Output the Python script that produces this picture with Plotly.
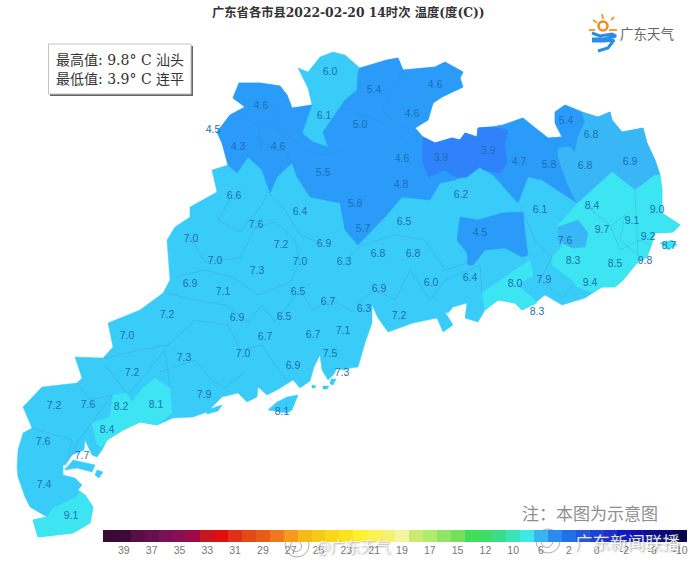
import plotly.graph_objects as go

CJK = "Noto Sans CJK SC"
SERIF = "DejaVu Serif, Noto Sans CJK SC"
WM_SHADOW = "1px 1px 2px rgba(90,90,90,0.7)"

# colours of the map classes
c_base = "#3accf8"
c_mid = "#39b6f5"
c_dark = "#2b9bfa"
c_darkest = "#2f82fa"
c_cyan = "#3de4f2"

# province outline, map units
prov_x = [239,260,280,287,292,312,308,298,308,320,333,345,360,387,398,403,435,445,463,460,463,442,433,428,415,423,435,452,460,465,477,478,492,503,523,535,548,562,555,555,565,582,598,610,612,622,643,647,655,660,662,662,680,673,655,652,647,637,625,623,615,602,585,562,545,535,522,515,498,485,478,465,467,453,448,445,453,443,437,413,388,378,372,372,365,358,350,343,337,334,328,322,320,314,310,300,293,277,267,258,257,247,238,222,207,193,173,157,140,123,107,102,97,92,85,84,72,65,63,63,75,82,78,85,93,90,73,57,38,33,47,30,25,18,17,18,23,32,23,42,77,82,75,103,113,108,140,163,170,167,175,190,190,208,217,212,228,222,217,230,245,233]
prov_y = [83,83,86,95,108,105,88,68,72,57,52,55,68,60,58,70,67,62,72,78,87,97,103,120,128,137,143,138,140,133,137,128,127,125,118,128,138,137,123,112,105,112,117,112,120,132,128,143,160,175,190,213,225,232,233,243,257,263,277,280,287,287,298,305,295,303,310,303,300,310,322,318,303,307,313,312,325,332,318,323,332,318,305,323,343,367,368,370,368,374,380,370,355,367,381,388,380,390,395,387,397,402,393,397,412,417,418,425,422,430,440,450,457,455,440,450,455,465,465,475,478,485,490,495,507,523,533,535,537,520,517,507,497,477,467,450,433,428,407,387,383,378,357,358,347,323,310,293,280,240,227,217,207,197,192,170,165,143,132,115,107,98]

# islands
isl_a_x = [268,277,287,298,292,287]
isl_a_y = [410,402,397,395,410,413]
isl_b_x = [660,672,677,668]
isl_b_y = [243,240,245,250]
isl_c_x = [65,73,95,92,77]
isl_c_y = [470,460,465,472,468]
isl_d_x = [97,103,99,95]
isl_d_y = [470,472,478,475]
isl_e_x = [206,222,218,207]
isl_e_y = [410,405,411,414]
isl_f_x = [331,336,333,330]
isl_f_y = [379,379,385,384]
isl_g_x = [312,316,315,312]
isl_g_y = [385,386,388,388]
isl_h_x = [323,329,327,323]
isl_h_y = [386,386,389,389]

# colder northern zone
north_x = [239,260,280,287,292,312,302,313,328,323,345,357,358,360,387,398,403,435,445,463,460,463,442,433,428,415,423,435,452,460,465,477,478,492,503,523,535,548,562,555,555,565,582,585,578,575,570,558,558,568,577,542,528,518,493,480,455,440,430,402,385,358,345,340,310,297,292,277,270,262,248,237,228,222,217,230,245,233]
north_y = [83,83,86,95,108,105,133,142,147,132,100,90,72,68,60,58,70,67,62,72,78,87,97,103,120,128,137,143,138,140,133,137,128,127,125,118,128,138,137,123,112,105,112,122,137,153,147,148,157,185,203,180,177,203,175,167,180,183,200,197,217,245,230,203,197,177,163,177,193,170,157,173,165,143,132,115,107,98]

coldest_x = [423,435,452,460,465,477,478,492,508,505,507,500,483,480,467,458,448,445,428,422]
coldest_y = [137,143,138,140,133,137,128,127,130,143,163,173,170,167,177,178,173,170,177,160]

pocket_x = [460,478,502,523,525,528,522,505,485,473,468,467,457]
pocket_y = [217,220,213,212,233,255,257,248,250,265,265,253,240]

ne_x = [582,598,610,612,622,643,647,655,660,638,635,612,578,577,568,558,558,570,575,578,585]
ne_y = [112,117,112,120,132,128,143,160,175,187,190,172,203,203,185,157,148,147,153,137,122]

east_x = [612,635,655,660,662,662,680,673,655,652,647,637,625,623,615,602,592,577,572,552,552,563,558,558,578]
east_y = [172,190,175,175,190,213,225,232,233,243,257,263,277,280,287,287,292,287,280,265,257,245,235,225,203]

pocket2_x = [558,578,588,585,572,558]
pocket2_y = [227,220,233,247,248,240]

shan_x = [482,500,512,530,533,517,532,537,522,515,498,485]
shan_y = [293,280,272,260,275,285,297,303,310,303,300,310]

west_x = [113,127,132,137,143,155,170,172,157,140,123,107,102,97,92,110]
west_y = [395,393,402,395,388,378,388,413,425,422,430,440,447,445,423,417]

south_x = [53,75,80,85,93,90,73,57,38,33,47]
south_y = [508,498,492,495,507,523,533,535,537,520,517]

# county lines inside the province
county_lines = [
    ([245,258,262,257,272,285,292], [115,127,150,135,150,150,163]),
    ([281,270,292,305,320,345], [106,125,138,150,155,150]),
    ([345,372,398,410], [108,118,132,150]),
    ([403,392,382,395,415], [70,90,110,125,130]),
    ([230,218,240,262,268,285,300,320], [200,220,232,205,192,210,235,243]),
    ([190,205,240,255,275,295,300], [238,262,258,228,222,240,262]),
    ([175,205,235,258,290,300], [277,270,278,295,282,262]),
    ([165,195,225,248,262,275,300,312,330,355], [293,300,305,322,305,322,290,310,300,312]),
    ([105,140,168,195,228,240,262,275,290], [358,350,345,320,325,350,345,365,385]),
    ([160,195,212,225,245], [372,360,380,388,372]),
    ([105,128,165,170], [365,395,350,388]),
    ([77,90,112,92,77,65,72,32], [383,400,395,423,443,470,440,428]),
    ([345,362,395,425,445,470,480], [262,245,235,240,270,262,258]),
    ([355,375,395,410,430,445,480,482], [305,290,300,270,300,280,265,293]),
    ([520,535,552,540,562,575], [205,240,257,280,298,282]),
    ([585,610,620,640,650], [205,225,250,240,245]),
    ([612,625,620,638,635], [225,215,240,255,190]),
]

# station readings
station_temp = ["6.0","5.4","4.6","4.6","6.1","4.6","5.0","4.5","4.3","4.6","4.6","5.5","3.9","3.9","4.7","5.8","5.4","6.8","6.8","6.9","4.8","6.2","6.6","7.6","6.4","5.8","5.7","6.5","6.1","8.4","9.0","9.1","9.7","9.2","8.7","4.5","7.6","7.0","7.2","6.9","7.0","7.0","7.3","6.3","6.8","6.8","8.3","8.5","9.8","6.4","6.0","6.9","7.1","6.5","6.9","8.0","7.9","9.4","6.7","7.2","6.9","6.5","6.3","7.2","8.3","7.0","6.7","6.7","7.1","7.3","7.0","7.5","6.9","7.3","7.2","7.9","8.1","8.2","7.2","7.6","8.1","8.4","7.6","7.7","7.4","9.1"]
station_x = [330,374,435,261,324,412,360,213,238,278,402,323,441,488,519,549,566,591,585,630,401,461,234,256,300,355,363,404,540,592,657,632,602,648,669,480,565,191,281,324,215,300,257,344,378,413,573,615,645,470,431,190,223,298,379,515,544,590,328,167,237,284,364,399,537,127,265,313,343,184,243,330,293,342,132,204,156,121,54,88,282,107,43,82,44,71]
station_y = [72,90,85,106,116,114,125,130,147,147,159,173,158,151,162,165,121,135,166,162,185,195,196,225,212,204,229,222,210,206,210,221,230,237,246,233,241,239,245,244,261,262,271,262,254,254,261,264,261,278,283,284,292,292,289,284,280,283,302,315,318,317,309,316,312,336,337,335,331,358,354,354,366,373,373,395,405,407,406,405,412,430,442,456,485,516]

# colour legend
legend_colors = ["#3a0a35","#3f0a38","#580e48","#670f50","#7a1058","#8a0e52","#a00a44","#c4161c","#e00e0e","#e0301a","#e64a14","#e85c14","#f07820","#f59a1a","#f5b91a","#f5cc14","#f8d818","#fbe41c","#fff030","#fdf350","#f8f070","#f3f6a0","#cdea70","#b0ec6c","#90e664","#74e05e","#40de58","#3ddc62","#3adc88","#38e4b4","#3ce8e8","#38b4f0","#2a8cf0","#2070e8","#2058e0","#1c44d8","#1c30cc","#1018c0","#1010b0","#0c0c90","#0a0a78","#060650"]
legend_bins = list(range(len(legend_colors)))
legend_heights = [1] * len(legend_colors)
legend_labels = ["39","37","35","33","31","29","27","25","23","21","19","17","15","12","10","6","2","0","-2","-6","-10"]
legend_ticks = [1 + 2 * i for i in range(len(legend_labels))]

fig = go.Figure()


def add_area(xs, ys, color):
    fig.add_trace(go.Scatter(x=xs + xs[:1], y=ys + ys[:1], mode="lines", fill="toself",
                             fillcolor=color, line=dict(color=color, width=0.5),
                             hoverinfo="skip", showlegend=False))


add_area(prov_x, prov_y, c_base)
add_area(north_x, north_y, c_dark)
add_area(coldest_x, coldest_y, c_darkest)
add_area(pocket_x, pocket_y, c_dark)
add_area(ne_x, ne_y, c_mid)
add_area(east_x, east_y, c_cyan)
add_area(pocket2_x, pocket2_y, c_mid)
add_area(shan_x, shan_y, c_cyan)
add_area(west_x, west_y, c_cyan)
add_area(south_x, south_y, c_cyan)
add_area(isl_a_x, isl_a_y, c_base)
add_area(isl_b_x, isl_b_y, c_cyan)
add_area(isl_c_x, isl_c_y, c_base)
add_area(isl_d_x, isl_d_y, c_base)
add_area(isl_e_x, isl_e_y, c_base)
add_area(isl_f_x, isl_f_y, c_base)
add_area(isl_g_x, isl_g_y, c_base)
add_area(isl_h_x, isl_h_y, c_base)

for xs, ys in county_lines:
    fig.add_trace(go.Scatter(x=xs, y=ys, mode="lines",
                             line=dict(color="rgba(60,130,190,0.3)", width=0.8),
                             hoverinfo="skip", showlegend=False))

fig.add_trace(go.Scatter(x=station_x, y=station_y, text=station_temp, mode="text",
                         textfont=dict(family="Liberation Sans", size=10.5, color="#1b6fb4"),
                         hoverinfo="skip", showlegend=False))

fig.add_trace(go.Bar(x=legend_bins, y=legend_heights, marker=dict(color=legend_colors, line_width=0),
                     xaxis="x2", yaxis="y2", hoverinfo="skip", showlegend=False))

# logo
fig.add_trace(go.Scatter(x=[603], y=[26], mode="markers",
                         marker=dict(size=9, color="white", line=dict(color="#f08a24", width=2.5)),
                         hoverinfo="skip", showlegend=False))
fig.add_trace(go.Scatter(x=[589,595,None,593,597,None,602,603,None,611,614,None,609,617],
                         y=[30,30,None,20,23,None,14,19,None,20,17,None,30,30], mode="lines",
                         line=dict(color="#f0a030", width=2), hoverinfo="skip", showlegend=False))
fig.add_trace(go.Scatter(x=[592,600,612,616,604,592,None,592,604,614,608,598],
                         y=[33,36,34,36,39,39,None,41,41,40,48,51], mode="lines",
                         line=dict(color="#2a8ce8", width=3), hoverinfo="skip", showlegend=False))

# weibo marks
fig.add_trace(go.Scatter(x=[297,548], y=[545,541], mode="markers",
                         marker=dict(size=[24,24], color="rgba(255,255,255,0.6)",
                                     line=dict(color="rgba(110,110,110,0.8)", width=1)),
                         hoverinfo="skip", showlegend=False))
fig.add_trace(go.Scatter(x=[296,547], y=[546,542], mode="markers",
                         marker=dict(size=[11,11], color="rgba(255,255,255,0)",
                                     line=dict(color="rgba(110,110,110,0.8)", width=1)),
                         hoverinfo="skip", showlegend=False))
fig.add_trace(go.Scatter(x=[303,309,311,None,554,560,562], y=[533,535,542,None,529,531,538], mode="lines",
                         line=dict(color="rgba(255,255,255,0.9)", width=1.5),
                         hoverinfo="skip", showlegend=False))

fig.update_layout(
    width=690, height=561, margin=dict(l=0, r=0, t=0, b=0),
    paper_bgcolor="white", plot_bgcolor="rgba(0,0,0,0)", bargap=0,
    xaxis=dict(range=[0, 690], domain=[0, 1], visible=False, fixedrange=True),
    yaxis=dict(range=[561, 0], domain=[0, 1], visible=False, fixedrange=True),
    xaxis2=dict(domain=[103 / 690, 687 / 690], range=[-0.5, 41.5], anchor="y2", showgrid=False,
                zeroline=False, showline=False, ticks="", tickmode="array", tickvals=legend_ticks,
                ticktext=legend_labels, tickfont=dict(family="Liberation Sans", size=10.5, color="#777777")),
    yaxis2=dict(domain=[1 - 542 / 561, 1 - 530 / 561], range=[0, 1], anchor="x2", visible=False),
    shapes=[
        dict(type="rect", x0=50, y0=46, x1=193, y1=96, xref="x", yref="y", layer="below",
             fillcolor="#666666", line_width=0),
        dict(type="rect", x0=48.5, y0=44, x1=191, y1=94, xref="x", yref="y", layer="below",
             fillcolor="white", line=dict(color="#c4c4c4", width=1)),
    ],
    annotations=[
        dict(text="<b>广东省各市县2022-02-20 14时次 温度(度(C))</b>", x=348, y=12, xref="x", yref="y",
             showarrow=False, font=dict(family=SERIF, size=12.3, color="#333333")),
        dict(text="最高值: 9.8° C 汕头", x=120, y=59.5, xref="x", yref="y", showarrow=False,
             font=dict(family=SERIF, size=14, color="#333333")),
        dict(text="最低值: 3.9° C 连平", x=120, y=78.5, xref="x", yref="y", showarrow=False,
             font=dict(family=SERIF, size=14, color="#333333")),
        dict(text="广东天气", x=647, y=33, xref="x", yref="y", showarrow=False,
             font=dict(family=CJK, size=13.5, color="#666666")),
        dict(text="注：本图为示意图", x=589.5, y=512, xref="x", yref="y", showarrow=False,
             font=dict(family=CJK, size=17, color="#8e8e8e")),
        dict(text="@广东天气", x=353, y=545, xref="x", yref="y", showarrow=False,
             font=dict(family=CJK, size=15, color="rgba(255,255,255,0.8)", shadow=WM_SHADOW)),
        dict(text="广东新闻联播", x=628, y=541, xref="x", yref="y", showarrow=False,
             font=dict(family=CJK, size=17.5, color="rgba(255,255,255,0.88)", shadow=WM_SHADOW)),
    ],
)

fig.write_html("out.html", config=dict(displayModeBar=False),
               post_script="document.body.style.margin='0';document.body.style.overflow='hidden';")
